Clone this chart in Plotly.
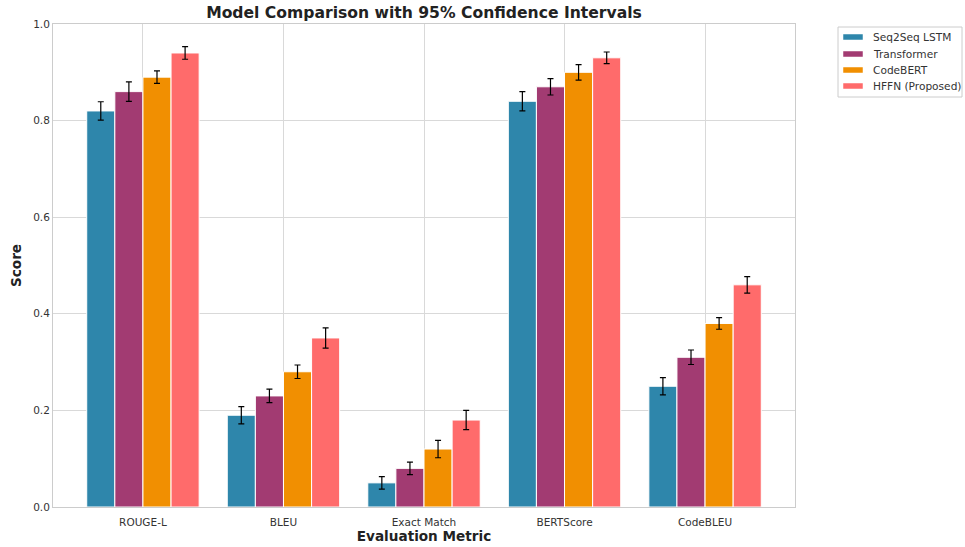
import plotly.graph_objects as go

metrics = ["ROUGE-L", "BLEU", "Exact Match", "BERTScore", "CodeBLEU"]

seq2seq_scores = [0.82, 0.19, 0.05, 0.84, 0.25]
transformer_scores = [0.86, 0.23, 0.08, 0.87, 0.31]
codebert_scores = [0.89, 0.28, 0.12, 0.90, 0.38]
hffn_scores = [0.94, 0.35, 0.18, 0.93, 0.46]

seq2seq_ci = [0.019, 0.018, 0.013, 0.020, 0.018]
transformer_ci = [0.020, 0.014, 0.013, 0.017, 0.015]
codebert_ci = [0.013, 0.014, 0.018, 0.016, 0.012]
hffn_ci = [0.013, 0.021, 0.020, 0.012, 0.017]

model_names = ["Seq2Seq LSTM", "Transformer", "CodeBERT", "HFFN (Proposed)"]
colors = ["#2E86AB", "#A23B72", "#F18F01", "#FF6B6B"]

series = [seq2seq_scores, transformer_scores, codebert_scores, hffn_scores]
errors = [seq2seq_ci, transformer_ci, codebert_ci, hffn_ci]

FONT = "DejaVu Sans"
W, H = 965, 547
ML, MR, MT, MB = 53, 170, 24, 40
PW, PH = W - ML - MR, H - MT - MB


def px_x(px):
    """Pixel column -> paper x (plot-area normalised)."""
    return (px - ML) / PW


def px_y(py):
    """Pixel row (from top) -> paper y (plot-area normalised)."""
    return (H - MB - py) / PH


fig = go.Figure()
for name, vals, err, col in zip(model_names, series, errors, colors):
    fig.add_trace(go.Bar(
        name=name,
        x=list(range(len(metrics))),
        y=vals,
        marker=dict(color=col, line=dict(color="white", width=1)),
        error_y=dict(type="data", array=err, visible=True,
                     color="black", thickness=1.2, width=3),
        showlegend=False,
    ))

# Legend box drawn as shapes + text so it sits outside the axes, to the
# right of the plot area.
shapes = [dict(
    type="rect", xref="paper", yref="paper",
    x0=px_x(838), x1=px_x(962), y0=px_y(97), y1=px_y(27),
    line=dict(color="#cccccc", width=1), fillcolor="white", layer="above",
)]
annotations = []
row_y = [37, 54, 70, 86]
for name, col, ry in zip(model_names, colors, row_y):
    shapes.append(dict(
        type="rect", xref="paper", yref="paper",
        x0=px_x(843), x1=px_x(863), y0=px_y(ry + 3), y1=px_y(ry - 3),
        line=dict(color="white", width=0.5), fillcolor=col, layer="above",
    ))
    annotations.append(dict(
        text=name, xref="paper", yref="paper",
        x=px_x(871), y=px_y(ry), xanchor="left", yanchor="middle",
        showarrow=False, font=dict(family=FONT, size=10.6, color="#333333"),
    ))

fig.update_layout(
    barmode="group",
    bargap=0.2,
    bargroupgap=0,
    width=W,
    height=H,
    paper_bgcolor="white",
    plot_bgcolor="white",
    margin=dict(l=ML, r=MR, t=MT, b=MB, autoexpand=False),
    font=dict(family=FONT, size=10.5, color="#333333"),
    title=dict(
        text="<b>Model Comparison with 95% Confidence Intervals</b>",
        x=(ML + ML + PW) / 2 / W, xanchor="center",
        y=1 - 13 / H, yanchor="middle",
        font=dict(family=FONT, size=15.6, color="#222222"),
    ),
    shapes=shapes,
    annotations=annotations,
    showlegend=False,
)

fig.update_xaxes(
    tickmode="array",
    tickvals=list(range(len(metrics))),
    ticktext=metrics,
    range=[-0.64, 4.64],
    showgrid=True, gridcolor="#d9d9d9", gridwidth=1,
    showline=True, linecolor="#cccccc", linewidth=1, mirror=True,
    ticks="outside", ticklen=5, tickcolor="rgba(0,0,0,0)",
    zeroline=False,
    title=dict(text="<b>Evaluation Metric</b>", standoff=4,
               font=dict(family=FONT, size=13.6, color="#222222")),
)
fig.update_yaxes(
    range=[0, 1.0],
    tickmode="array",
    tickvals=[0.0, 0.2, 0.4, 0.6, 0.8, 1.0],
    ticktext=["0.0", "0.2", "0.4", "0.6", "0.8", "1.0"],
    showgrid=True, gridcolor="#d9d9d9", gridwidth=1,
    showline=True, linecolor="#cccccc", linewidth=1, mirror=True,
    ticks="", zeroline=False,
    title=dict(text="<b>Score</b>", standoff=8,
               font=dict(family=FONT, size=13.6, color="#222222")),
)

fig.write_html("out.html")
